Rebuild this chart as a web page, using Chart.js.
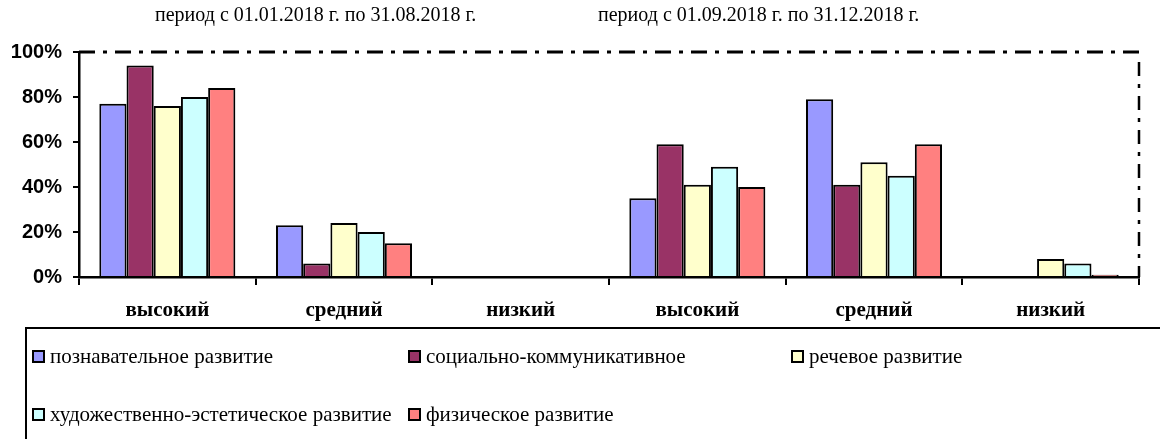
<!DOCTYPE html>
<html>
<head>
<meta charset="utf-8">
<script src="https://cdn.jsdelivr.net/npm/chart.js@4/dist/chart.umd.min.js"></script>
<style>
  html, body { margin: 0; padding: 0; background: #fff; }
  #wrap { position: relative; width: 1160px; height: 439px; overflow: hidden; }
  #myChart { position: absolute; left: 0; top: 0; }
  .period { position: absolute; top: 2px; font: 20px "Liberation Serif", "Times New Roman", serif; color: #000; white-space: nowrap; line-height: 24px; }
  #legend { position: absolute; left: 25px; top: 327px; width: 1150px; height: 130px; border: 2px solid #000; box-sizing: border-box; font: 21px "Liberation Serif", "Times New Roman", serif; }
  .item { position: absolute; white-space: nowrap; line-height: 24px; }
  .box { display: inline-block; width: 9px; height: 9px; border: 2px solid #000; margin-right: 5px; vertical-align: 0px; }
</style>
</head>
<body>
<div id="wrap">
  <canvas id="myChart" width="1160" height="439"></canvas>
  <div class="period" style="left:155px">период с 01.01.2018 г. по 31.08.2018 г.</div>
  <div class="period" style="left:598px">период с 01.09.2018 г. по 31.12.2018 г.</div>
  <div id="legend"></div>
</div>
<script>
// Data
const categories = ['высокий', 'средний', 'низкий', 'высокий', 'средний', 'низкий'];
const seriesNames = [
    'познавательное развитие',
    'социально-коммуникативное',
    'речевое развитие',
    'художественно-эстетическое развитие',
    'физическое развитие'
];
const cognitive = [77, 23, 0, 35, 79, 0];
const social = [94, 6, 0, 59, 41, 0];
const speech = [76, 24, 0, 41, 51, 8];
const artistic = [80, 20, 0, 49, 45, 6];
const physical = [84, 15, 0, 40, 59, 1];
const yTicks = [0, 20, 40, 60, 80, 100];

const colors = ['#9999FF', '#993366', '#FFFFCC', '#CCFFFF', '#FF8080'];
const values = [cognitive, social, speech, artistic, physical];

// top dash-dot border and right dashed border of the plot area
const frameBorder = {
    id: 'frameBorder',
    afterDraw(chart) {
        const { ctx, chartArea: a } = chart;
        ctx.save();
        ctx.strokeStyle = '#000';
        ctx.lineWidth = 3;
        ctx.setLineDash([16, 8, 4, 8]);
        ctx.beginPath();
        ctx.moveTo(a.left, a.top);
        ctx.lineTo(a.right, a.top);
        ctx.stroke();
        ctx.lineWidth = 2.5;
        ctx.setLineDash([14, 8, 4, 8]);
        ctx.beginPath();
        ctx.moveTo(a.right, a.top + 10);
        ctx.lineTo(a.right, a.bottom);
        ctx.stroke();
        ctx.restore();
    }
};

const ctx = document.getElementById('myChart').getContext('2d');

const chartInstance = new Chart(ctx, {
    type: 'bar',
    data: {
        labels: categories,
        datasets: seriesNames.map((name, i) => ({
            label: name,
            data: values[i],
            backgroundColor: colors[i],
            borderColor: '#000',
            borderWidth: 2,
            categoryPercentage: 0.77,
            barPercentage: 1.0
        }))
    },
    options: {
        responsive: false,
        animation: false,
        layout: {
            padding: { left: 0, right: 21, top: 52, bottom: 117 }
        },
        plugins: {
            legend: { display: false },
            tooltip: { enabled: false }
        },
        scales: {
            x: {
                grid: {
                    offset: true,
                    drawOnChartArea: false,
                    drawTicks: true,
                    tickLength: 8,
                    color: '#000',
                    lineWidth: 2
                },
                border: { color: '#000', width: 2.5 },
                ticks: {
                    color: '#000',
                    padding: 13,
                    font: { family: '"Liberation Serif", "Times New Roman", serif', size: 21, weight: 'bold' }
                },
                afterFit(scale) { scale.height = 45; }
            },
            y: {
                min: 0,
                max: 100,
                afterBuildTicks(scale) {
                    scale.ticks = yTicks.map(v => ({ value: v }));
                },
                grid: {
                    drawOnChartArea: false,
                    drawTicks: true,
                    tickLength: 6,
                    color: '#000',
                    lineWidth: 2
                },
                border: { color: '#000', width: 2.5 },
                ticks: {
                    color: '#000',
                    padding: 11,
                    font: { family: '"Liberation Sans", Arial, sans-serif', size: 20, weight: 'bold' },
                    callback: v => v + '%'
                },
                afterFit(scale) { scale.width = 79; }
            }
        }
    },
    plugins: [frameBorder]
});

// legend built from the chart datasets
const legendPos = [[5, 15], [381, 15], [764, 15], [5, 73], [381, 73]];
const legendEl = document.getElementById('legend');
chartInstance.data.datasets.forEach((ds, i) => {
    const item = document.createElement('div');
    item.className = 'item';
    item.style.left = legendPos[i][0] + 'px';
    item.style.top = legendPos[i][1] + 'px';
    item.innerHTML = '<span class="box" style="background:' + ds.backgroundColor + '"></span>' + ds.label;
    legendEl.appendChild(item);
});
</script>
</body>
</html>
